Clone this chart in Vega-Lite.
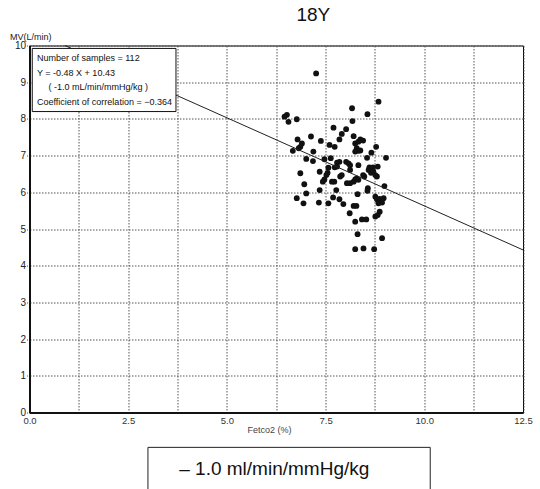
{
  "$schema": "https://vega.github.io/schema/vega-lite/v6.json",
  "width": 493.5,
  "height": 367,
  "autosize": "none",
  "padding": {"left": 29.5, "top": 45.5, "right": 17, "bottom": 76.5},
  "background": "white",
  "config": {
    "view": {"stroke": "black", "strokeWidth": 1},
    "font": "Liberation Sans"
  },
  "resolve": {"axis": {"x": "independent", "y": "independent"}},
  "datasets": {
    "pts": [
      {"x": 8.84, "y": 8.47}, {"x": 8.17, "y": 8.29}, {"x": 8.56, "y": 8.13}, {"x": 7.26, "y": 9.24},
      {"x": 6.52, "y": 8.11}, {"x": 6.46, "y": 8.06}, {"x": 6.56, "y": 7.92}, {"x": 6.77, "y": 7.99},
      {"x": 8.18, "y": 7.94}, {"x": 7.70, "y": 7.76}, {"x": 8.02, "y": 7.72}, {"x": 7.91, "y": 7.59},
      {"x": 8.21, "y": 7.53}, {"x": 8.38, "y": 7.44}, {"x": 8.45, "y": 7.41}, {"x": 6.79, "y": 7.44},
      {"x": 7.13, "y": 7.52}, {"x": 7.38, "y": 7.40}, {"x": 7.85, "y": 7.44}, {"x": 6.90, "y": 7.33},
      {"x": 6.86, "y": 7.24}, {"x": 6.82, "y": 7.20}, {"x": 6.67, "y": 7.13}, {"x": 7.19, "y": 7.11},
      {"x": 7.60, "y": 7.29}, {"x": 7.73, "y": 7.24}, {"x": 8.25, "y": 7.33}, {"x": 8.29, "y": 7.20},
      {"x": 8.33, "y": 7.13}, {"x": 8.25, "y": 7.11}, {"x": 8.78, "y": 7.24}, {"x": 8.66, "y": 7.08},
      {"x": 7.01, "y": 6.91}, {"x": 7.18, "y": 6.85}, {"x": 7.47, "y": 6.90}, {"x": 7.63, "y": 6.93},
      {"x": 7.79, "y": 6.81}, {"x": 7.85, "y": 6.83}, {"x": 8.02, "y": 6.83}, {"x": 8.08, "y": 6.79},
      {"x": 7.73, "y": 6.68}, {"x": 7.79, "y": 6.70}, {"x": 7.57, "y": 6.67}, {"x": 8.12, "y": 6.74},
      {"x": 8.33, "y": 6.74}, {"x": 8.55, "y": 6.94}, {"x": 9.03, "y": 6.94}, {"x": 8.61, "y": 6.68},
      {"x": 8.70, "y": 6.68}, {"x": 8.82, "y": 6.70}, {"x": 8.59, "y": 6.61}, {"x": 8.65, "y": 6.53},
      {"x": 8.71, "y": 6.56}, {"x": 6.86, "y": 6.52}, {"x": 7.35, "y": 6.56}, {"x": 7.55, "y": 6.53},
      {"x": 7.52, "y": 6.47}, {"x": 7.47, "y": 6.35}, {"x": 7.43, "y": 6.29}, {"x": 7.66, "y": 6.29},
      {"x": 7.72, "y": 6.29}, {"x": 7.87, "y": 6.43}, {"x": 7.91, "y": 6.47}, {"x": 8.04, "y": 6.25},
      {"x": 8.12, "y": 6.25}, {"x": 8.25, "y": 6.35}, {"x": 8.29, "y": 6.38}, {"x": 8.33, "y": 6.34},
      {"x": 8.21, "y": 6.29}, {"x": 8.45, "y": 6.47}, {"x": 8.48, "y": 6.43}, {"x": 8.76, "y": 6.47},
      {"x": 8.80, "y": 6.43}, {"x": 6.96, "y": 6.22}, {"x": 7.35, "y": 6.06}, {"x": 7.77, "y": 6.06},
      {"x": 8.57, "y": 6.11}, {"x": 8.56, "y": 6.04}, {"x": 8.99, "y": 6.17}, {"x": 7.01, "y": 5.97},
      {"x": 6.77, "y": 5.84}, {"x": 6.94, "y": 5.70}, {"x": 7.33, "y": 5.72}, {"x": 7.57, "y": 5.70},
      {"x": 7.69, "y": 5.86}, {"x": 7.85, "y": 5.81}, {"x": 7.95, "y": 5.68}, {"x": 8.31, "y": 5.95},
      {"x": 8.21, "y": 5.63}, {"x": 8.28, "y": 5.63}, {"x": 8.11, "y": 5.43}, {"x": 8.76, "y": 5.88},
      {"x": 8.80, "y": 5.81}, {"x": 8.87, "y": 5.82}, {"x": 8.90, "y": 5.77}, {"x": 8.93, "y": 5.72},
      {"x": 8.84, "y": 5.70}, {"x": 8.87, "y": 5.47}, {"x": 8.82, "y": 5.38}, {"x": 8.76, "y": 5.34},
      {"x": 8.25, "y": 5.20}, {"x": 8.42, "y": 5.26}, {"x": 8.53, "y": 5.26}, {"x": 8.31, "y": 4.86},
      {"x": 8.93, "y": 4.75}, {"x": 8.25, "y": 4.45}, {"x": 8.46, "y": 4.47}, {"x": 8.73, "y": 4.45},
      {"x": 8.38, "y": 7.14}, {"x": 8.33, "y": 7.38}, {"x": 8.12, "y": 6.61}, {"x": 8.97, "y": 5.84}
    ],
    "fit": [
      {"x": 0.896, "y": 10.0},
      {"x": 12.5, "y": 4.43}
    ]
  },
  "layer": [
    {
      "data": {"name": "pts"},
      "mark": {"type": "circle", "size": 34, "color": "#111", "opacity": 1},
      "encoding": {
        "x": {
          "field": "x",
          "type": "quantitative",
          "scale": {"domain": [0, 12.5], "nice": false, "zero": false},
          "axis": {
            "title": "Fetco2 (%)",
            "titleFontSize": 9,
            "titleFontWeight": "normal",
            "titleColor": "#444",
            "titleX": 239.5,
            "titleY": 17,
            "titleBaseline": "middle",
            "values": [0, 1.25, 2.5, 3.75, 5, 6.25, 7.5, 8.75, 10, 11.25, 12.5],
            "labelExpr": "datum.value % 2.5 == 0 ? format(datum.value, '.1f') : ''",
            "labelFontSize": 9.5,
            "labelColor": "#333",
            "labelPadding": 3,
            "labelFlush": false,
            "labelOverlap": false,
            "ticks": false,
            "domainColor": "#111",
            "domainWidth": 2,
            "grid": true,
            "gridColor": "#555",
            "gridDash": [1.5, 1.5],
            "gridWidth": 1,
            "gridOpacity": 1
          }
        },
        "y": {
          "field": "y",
          "type": "quantitative",
          "scale": {"domain": [0, 10], "nice": false},
          "axis": {
            "title": "MV(L/min)",
            "titleFontSize": 9,
            "titleFontWeight": "normal",
            "titleColor": "#222",
            "titleAngle": 0,
            "titleAlign": "left",
            "titleBaseline": "middle",
            "titleX": -20,
            "titleY": -9,
            "values": [0, 1, 2, 3, 4, 5, 6, 7, 8, 9, 10],
            "labelFontSize": 10,
            "labelColor": "#222",
            "labelPadding": 1,
            "labelFlush": false,
            "labelOverlap": false,
            "tickSize": 3,
            "tickColor": "#555",
            "tickDash": [1, 1],
            "domainColor": "#111",
            "domainWidth": 2,
            "grid": true,
            "gridColor": "#555",
            "gridDash": [1.5, 1.5],
            "gridWidth": 1,
            "gridOpacity": 1
          }
        }
      }
    },
    {
      "data": {"name": "fit"},
      "mark": {"type": "line", "color": "#222", "strokeWidth": 1},
      "encoding": {
        "x": {"field": "x", "type": "quantitative", "axis": null},
        "y": {"field": "y", "type": "quantitative", "axis": null}
      }
    },
    {
      "data": {"values": [{}]},
      "mark": {"type": "rect", "fill": "white", "stroke": "#111", "strokeWidth": 1},
      "encoding": {
        "x": {"datum": 0.07, "axis": null},
        "x2": {"datum": 3.71},
        "y": {"datum": 9.92, "axis": null},
        "y2": {"datum": 8.2}
      }
    },
    {
      "data": {"values": [{}]},
      "mark": {
        "type": "text",
        "text": ["Number of samples = 112", "Y = -0.48 X + 10.43"],
        "align": "left",
        "baseline": "middle",
        "lineHeight": 14.6,
        "fontSize": 9,
        "font": "Liberation Sans",
        "color": "#111"
      },
      "encoding": {
        "x": {"datum": 0.19, "axis": null},
        "y": {"datum": 9.66, "axis": null}
      }
    },
    {
      "data": {"values": [{}]},
      "mark": {
        "type": "text",
        "text": "( -1.0 mL/min/mmHg/kg )",
        "align": "left",
        "baseline": "middle",
        "fontSize": 9,
        "font": "Liberation Sans",
        "color": "#111"
      },
      "encoding": {
        "x": {"datum": 0.48, "axis": null},
        "y": {"datum": 8.87, "axis": null}
      }
    },
    {
      "data": {"values": [{}]},
      "mark": {
        "type": "text",
        "text": "Coefficient of correlation = \u22120.364",
        "align": "left",
        "baseline": "middle",
        "fontSize": 9,
        "font": "Liberation Sans",
        "color": "#111"
      },
      "encoding": {
        "x": {"datum": 0.19, "axis": null},
        "y": {"datum": 8.47, "axis": null}
      }
    },
    {
      "data": {"values": [{}]},
      "mark": {
        "type": "text",
        "text": "18Y",
        "align": "center",
        "baseline": "middle",
        "fontSize": 19,
        "font": "Liberation Sans",
        "color": "#111"
      },
      "encoding": {
        "x": {"datum": 7.19, "axis": null},
        "y": {"datum": 10.83, "axis": null}
      }
    },
    {
      "data": {"values": [{}]},
      "mark": {"type": "rect", "fill": "white", "stroke": "#222", "strokeWidth": 1},
      "encoding": {
        "x": {"datum": 3.0, "axis": null},
        "x2": {"datum": 10.15},
        "y": {"datum": -0.95, "axis": null},
        "y2": {"datum": -2.5}
      }
    },
    {
      "data": {"values": [{}]},
      "mark": {
        "type": "text",
        "text": "\u2013 1.0 ml/min/mmHg/kg",
        "align": "center",
        "baseline": "middle",
        "fontSize": 19,
        "font": "Liberation Sans",
        "color": "#111"
      },
      "encoding": {
        "x": {"datum": 6.2, "axis": null},
        "y": {"datum": -1.54, "axis": null}
      }
    }
  ]
}
